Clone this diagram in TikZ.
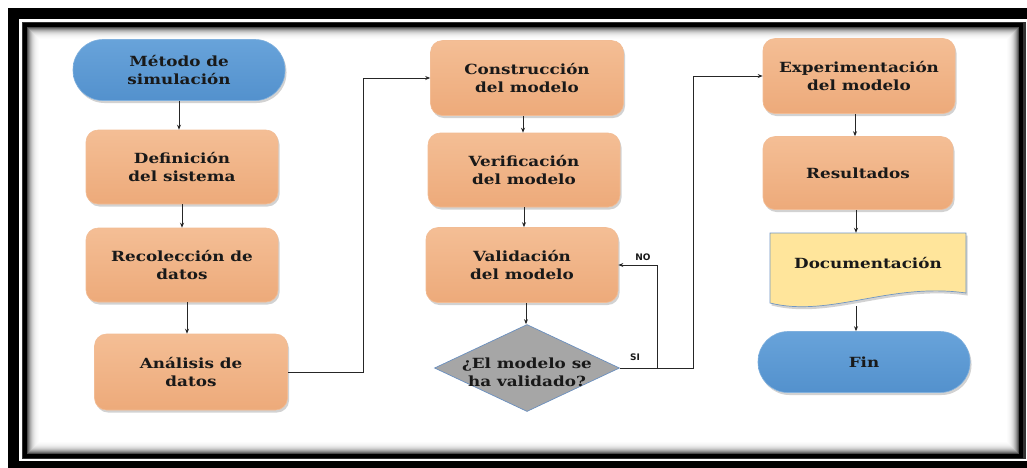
\documentclass[tikz,border=0pt]{standalone}
\usepackage{fontspec}
\setmainfont{DejaVu Serif}[FakeStretch=1.2]
\newfontfamily\lblfont{DejaVu Sans}
\usetikzlibrary{arrows.meta,shapes.geometric,shadows,calc}
\definecolor{orTop}{HTML}{F4BE95}
\definecolor{orBot}{HTML}{EDAA7A}
\definecolor{orEdge}{HTML}{F2BC94}
\definecolor{blTop}{HTML}{68A3DA}
\definecolor{blBot}{HTML}{5391CD}
\definecolor{blEdge}{HTML}{7FB0DE}
\definecolor{dmFill}{HTML}{A6A6A6}
\definecolor{dmEdge}{HTML}{6A8FBF}
\definecolor{docFill}{HTML}{FFE59B}
\definecolor{docEdge}{HTML}{7096C4}
\tikzset{
  txt/.style={font=\fontsize{14}{18}\selectfont\bfseries, align=center, text=black!90},
  shd/.style={drop shadow={opacity=0.35, shadow xshift=1.5pt, shadow yshift=-2.5pt}},
  procbox/.style={txt, shd, rectangle, rounded corners=12pt, minimum width=192pt, minimum height=74pt,
     draw=orEdge, line width=0.6pt, top color=orTop, bottom color=orBot, inner sep=2pt},
  termbox/.style={txt, shd, rectangle, rounded corners=30pt, minimum width=212pt, minimum height=61pt,
     draw=blEdge, line width=0.6pt, top color=blTop, bottom color=blBot},
  decbox/.style={diamond, aspect=2.1, minimum width=185pt, minimum height=87pt, inner sep=0pt,
     fill=dmFill, draw=dmEdge, line width=0.7pt},
  arr/.style={draw=black!85, line width=0.8pt, -{Stealth[length=5pt,width=4pt]}},
  lbl/.style={font=\lblfont\fontsize{9}{10}\selectfont\bfseries, text=black!90}
}
\begin{document}
\begin{tikzpicture}[x=1pt,y=-1pt]
\useasboundingbox (0,0) rectangle (1027,467);
% frame
\fill[white] (0,0) rectangle (1027,467);
\fill[black] (8,8) rectangle (1040,480);
\fill[white] (19,19) rectangle (1040,461);
\fill[black!80] (21.5,21.5) rectangle (1025.5,459);
\fill[black] (23,23) rectangle (1023,458);
\foreach \i/\c in {0/70,1/55,2/43,3/33,4/25,5/18,6/13,7/9,8/6,9/4,10/2.5,11/1.2,12/0} {
  \fill[black!\c] (27+\i,27+\i) rectangle (1019-\i,454-\i);
}
% nodes
\node[termbox] (metodo) at (179,70) {Método de\\simulación};
\node[procbox] (def) at (182,167) {Definición\\del sistema};
\node[procbox] (rec) at (182,265) {Recolección de\\datos};
\node[procbox, minimum width=193pt, minimum height=76pt] (anal) at (191,372) {Análisis de\\datos};
\node[procbox, minimum width=193pt, minimum height=75pt] (cons) at (527,78) {Construcción\\del modelo};
\node[procbox] (ver) at (524,170) {Verificación\\del modelo};
\node[procbox, minimum height=75pt] (val) at (522,265) {Validación\\del modelo};
\node[decbox] (dec) at (527,368) {};
\node[txt] (dectxt) at (527,372) {¿El modelo se\\ha validado?};
\node[procbox, minimum height=75pt] (exp) at (859,76) {Experimentación\\del modelo};
\node[procbox, minimum width=190pt, minimum height=73pt] (res) at (858,173) {Resultados};
% documentation shape
\fill[shd, docFill, draw=docEdge, line width=0.7pt]
  (770,233) -- (966,233) -- (966,293) .. controls (890,282) and (830,318) .. (770,303) -- cycle;
\node[txt, minimum width=196pt, minimum height=60pt] (doc) at (868,263) {Documentación};
\coordinate (docb) at (856,306);
\node[termbox] (fin) at (864,362) {Fin};
% junction coordinates
\coordinate (j1) at (363,0);
\coordinate (j2) at (657,0);
\coordinate (j3) at (693,0);
% connectors
\draw[arr] (metodo.south) -- (metodo.south |- def.north);
\draw[arr] (def.south) -- (def.south |- rec.north);
\draw[arr] ([xshift=5pt]rec.south) -- ([xshift=5pt]rec.south |- anal.north);
\draw[arr] (anal.east) -- (anal.east -| j1) |- (cons.west);
\draw[arr] ([xshift=-4pt]cons.south) -- ([xshift=-4pt]cons.south |- ver.north);
\draw[arr] (ver.south) -- (ver.south |- val.north);
\draw[arr] ([xshift=4pt]val.south) -- ([xshift=4pt]val.south |- dec.north);
\draw[arr] (dec.east) -- (dec.east -| j2) |- (val.east);
\draw[arr] (dec.east) -- (dec.east -| j3) |- (exp.west);
\draw[arr] ([xshift=-4pt]exp.south) -- ([xshift=-4pt]exp.south |- res.north);
\draw[arr] ([xshift=-2pt]res.south) -- ([xshift=-2pt]res.south |- doc.north);
\draw[arr] (docb) -- (docb |- fin.north);
% labels
\node[lbl] (no) at (643,257) {NO};
\node[lbl] (si) at (635,357) {SI};
\end{tikzpicture}
\end{document}
